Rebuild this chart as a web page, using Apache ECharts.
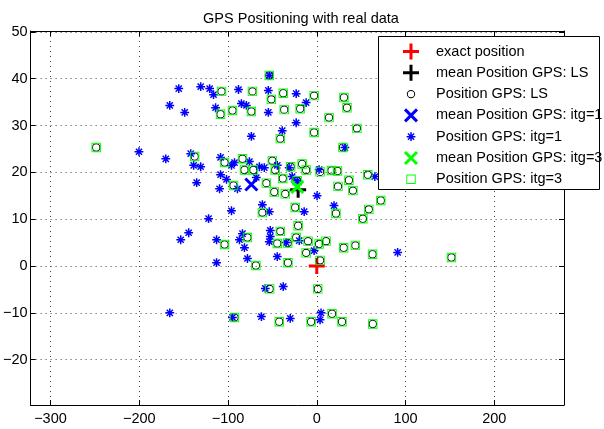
<!DOCTYPE html>
<html><head><meta charset="utf-8">
<script src="https://cdn.jsdelivr.net/npm/echarts@6/dist/echarts.min.js"></script>
<style>html,body{margin:0;padding:0;background:#fff}#c{width:604px;height:429px}</style>
</head><body><div id="c"></div>
<script>
const chartTitle = 'GPS Positioning with real data';
const seriesNames = ['exact position', 'mean Position GPS: LS', 'Position GPS: LS',
  'mean Position GPS: itg=1', 'Position GPS: itg=1', 'mean Position GPS: itg=3', 'Position GPS: itg=3'];
const xTicks = [-300, -200, -100, 0, 100, 200];
const yTicks = [-20, -10, 0, 10, 20, 30, 40, 50];

const exactPosition = [[0, 0]];
const meanLS = [[-21, 16.3]];
const meanItg1 = [[-73.7, 17.4]];
const meanItg3 = [[-22, 16.9]];

const posLS = [
  [-53.5,40.7],[-107.3,37.3],[-72.5,37.3],[-37.8,36.9],[-3.0,36.4],[30.6,36.0],[-51.2,35.6],
  [-108.4,32.4],[-95.0,33.2],[-73.7,33.0],[-36.7,33.4],[-18.7,33.6],[34.0,33.8],[13.8,31.7],
  [45.2,29.4],[-3.0,28.5],[-41.1,27.2],[29.5,25.3],[-248.5,25.3],[-137.6,23.4],[-103.9,22.1],
  [-83.7,22.9],[-81.5,20.5],[-71.4,20.5],[-50.1,22.5],[-46.8,20.5],[-29.4,21.2],[-16.5,21.8],
  [-12.0,20.5],[3.7,20.1],[16.6,20.4],[23.3,20.3],[57.5,19.5],[36.2,18.3],[-93.8,17.2],
  [-56.8,17.7],[-38.3,18.7],[-22.1,18.2],[-47.9,15.8],[-35.5,15.4],[23.9,17.0],[40.7,16.1],
  [72.1,14.0],[58.6,12.1],[51.9,10.1],[-61.3,11.4],[-24.3,12.5],[21.6,11.2],[-21.0,8.6],
  [-41.1,7.4],[-78.1,6.1],[-103.9,4.6],[-44.5,4.8],[-32.7,4.9],[-23.2,6.1],[-9.8,5.3],
  [2.6,4.7],[10.4,5.3],[-12.0,2.8],[30.3,3.9],[43.5,4.4],[62.8,2.5],[151.7,1.8],[-68.6,0.1],
  [-32.5,0.7],[3.7,1.2],[-53.1,-4.9],[1.1,-4.9],[-92.7,-11.0],[-42.3,-11.9],[-6.4,-11.9],
  [17.2,-10.2],[28.4,-11.9],[63.1,-12.4]
];
const posItg1 = [
  [-155.5,37.9],[-130.8,38.3],[-120.7,37.9],[-116.3,36.6],[-165.6,34.3],[-148.8,32.8],[-114.0,33.8],
  [-88.2,37.7],[-84.9,34.7],[-79.3,34.3],[-54.6,37.5],[-54.6,32.8],[-23.2,36.8],[-12.0,34.9],
  [-23.2,30.6],[-38.9,28.9],[-73.7,27.7],[-53.5,40.7],[31.7,25.3],[-200.3,24.4],[-170.1,22.9],
  [-142.0,24.0],[-138.7,21.5],[-130.8,21.2],[-108.4,23.2],[-108.4,19.5],[-101.7,18.5],[-135.3,17.8],
  [-109.5,16.5],[-96.1,21.5],[-92.7,22.1],[-89.4,16.5],[-75.9,22.3],[-68.1,18.9],[-64.7,21.2],
  [-59.1,21.0],[-44.5,21.5],[-31.1,21.0],[2.6,20.6],[65.4,19.1],[-27.7,19.1],[-22.1,18.2],
  [0.3,15.0],[-61.3,13.1],[-53.5,11.6],[-96.1,11.8],[-14.2,11.6],[19.4,12.9],[-121.9,10.1],
  [-144.3,7.1],[-153.3,5.6],[-112.9,5.6],[-87.1,5.6],[-83.7,6.9],[-81.5,3.9],[-52.4,7.6],
  [-52.4,6.3],[-53.5,5.2],[-34.4,5.0],[-19.8,5.4],[-3.0,3.3],[-44.5,2.0],[-78.1,1.6],
  [-112.9,0.7],[91.1,2.9],[-58.0,-4.8],[-37.8,-4.4],[-165.6,-10.0],[-95.0,-11.0],[-62.4,-10.8],
  [-29.9,-11.2],[4.8,-10.0],[3.7,-11.5]
];
const posItg3 = [
  [-53.5,40.7],[-107.3,37.3],[-72.5,37.3],[-37.8,36.9],[-3.0,36.4],[30.6,36.0],[-51.2,35.6],
  [-108.4,32.4],[-95.0,33.2],[-73.7,33.0],[-36.7,33.4],[-18.7,33.6],[34.0,33.8],[13.8,31.7],
  [45.2,29.4],[-3.0,28.5],[-41.1,27.2],[29.5,25.3],[-248.5,25.3],[-137.6,23.4],[-103.9,22.1],
  [-83.7,22.9],[-81.5,20.5],[-71.4,20.5],[-50.1,22.5],[-46.8,20.5],[-29.4,21.2],[-16.5,21.8],
  [-12.0,20.5],[3.7,20.1],[16.6,20.4],[23.3,20.3],[57.5,19.5],[36.2,18.3],[-93.8,17.2],
  [-56.8,17.7],[-38.3,18.7],[-22.1,18.2],[-47.9,15.8],[-35.5,15.4],[23.9,17.0],[40.7,16.1],
  [72.1,14.0],[58.6,12.1],[51.9,10.1],[-61.3,11.4],[-24.3,12.5],[21.6,11.2],[-21.0,8.6],
  [-41.1,7.4],[-78.1,6.1],[-103.9,4.6],[-44.5,4.8],[-32.7,4.9],[-23.2,6.1],[-9.8,5.3],
  [2.6,4.7],[10.4,5.3],[-12.0,2.8],[30.3,3.9],[43.5,4.4],[62.8,2.5],[151.7,1.8],[-68.6,0.1],
  [-32.5,0.7],[3.7,1.2],[-53.1,-4.9],[1.1,-4.9],[-92.7,-11.0],[-42.3,-11.9],[-6.4,-11.9],
  [17.2,-10.2],[28.4,-11.9],[63.1,-12.4]
];

const SYM = {
  plus: 'path://M-8,-8M8,8M-8,-1.5H8V1.5H-8ZM-1.5,-8H1.5V8H-1.5Z',
  cross: 'path://M-8,-8M8,8M-4.94,-7.06L7.06,4.94L4.94,7.06L-7.06,-4.94ZM-7.06,4.94L4.94,-7.06L7.06,-4.94L-4.94,7.06Z',
  ring: 'path://M-8,-8M8,8M-4.2,0A4.2,4.2,0,1,0,4.2,0A4.2,4.2,0,1,0,-4.2,0ZM-3.2,0A3.2,3.2,0,1,1,3.2,0A3.2,3.2,0,1,1,-3.2,0Z',
  box: 'path://M-8,-8M8,8M-4.7,-4.7H4.7V4.7H-4.7ZM-3.8,-3.8V3.8H3.8V-3.8Z',
  star: 'path://M-8,-8M8,8M-4.4,-0.75H4.4V0.75H-4.4ZM-0.75,-4.4H0.75V4.4H-0.75ZM-2.6,-3.6L3.6,2.6L2.6,3.6L-3.6,-2.6ZM-3.6,2.6L2.6,-3.6L3.6,-2.6L-2.6,3.6Z'
};

const FONT = 'Liberation Sans';
const FS = 14.5;
const fmt = v => String(v).replace('-', '\u2212');

function sc(name, data, symbol, color, z) {
  return { type: 'scatter', name, data, symbol, symbolSize: 16, z,
    itemStyle: { color, opacity: 1 }, emphasis: { disabled: true }, silent: true,
    xAxisIndex: 0, yAxisIndex: 0, animation: false };
}

const xBase = { type: 'value', min: -322.4, max: 278.5, splitNumber: 6,
  axisLine: { show: true, onZero: false, lineStyle: { color: '#000', width: 1 } },
  axisTick: { show: true, inside: true, length: 5, lineStyle: { color: '#000' } } };
const yBase = { type: 'value', min: -29.7, max: 50.2, splitNumber: 8,
  axisLine: { show: true, onZero: false, lineStyle: { color: '#000', width: 1 } },
  axisTick: { show: true, inside: true, length: 5, lineStyle: { color: '#000' } } };
const grid = { type: [1, 4], color: '#444', width: 1 };

const chart = echarts.init(document.getElementById('c'), null, { renderer: 'canvas' });
chart.setOption({
  animation: false,
  backgroundColor: '#fff',
  title: { text: chartTitle, left: 296, top: 6, textAlign: 'center',
    textStyle: { fontFamily: FONT, fontSize: FS, fontWeight: 'normal', color: '#000' } },
  grid: { left: 28, right: 40, top: 31, bottom: 24, containLabel: false },
  xAxis: [
    Object.assign({}, xBase, { position: 'bottom',
      axisLabel: { show: true, margin: 6, color: '#000', fontFamily: FONT, fontSize: FS,
        showMinLabel: false, showMaxLabel: false,
        formatter: v => xTicks.includes(v) ? fmt(v) : '' },
      splitLine: { show: true, lineStyle: grid } }),
    Object.assign({}, xBase, { position: 'top', axisLabel: { show: false }, splitLine: { show: false } })
  ],
  yAxis: [
    Object.assign({}, yBase, { position: 'left',
      axisLabel: { show: true, margin: 3, color: '#000', fontFamily: FONT, fontSize: FS,
        showMinLabel: false, showMaxLabel: false,
        formatter: v => yTicks.includes(v) ? fmt(v) : '' },
      splitLine: { show: true, lineStyle: grid } }),
    Object.assign({}, yBase, { position: 'right', axisLabel: { show: false }, splitLine: { show: false } })
  ],
  legend: { orient: 'vertical', left: 403, top: 43.5, padding: 0, itemGap: 5.3, align: 'left',
    itemWidth: 40, itemHeight: 16, selectedMode: false, z: 20,
    textStyle: { fontFamily: FONT, fontSize: FS, color: '#000' }, data: seriesNames },
  graphic: [{ type: 'rect', z: 10, silent: true,
    shape: { x: 378.5, y: 36.5, width: 221, height: 153 },
    style: { fill: '#fff', stroke: '#000', lineWidth: 1 } }],
  series: [
    sc(seriesNames[0], exactPosition, SYM.plus, '#ff0000', 2),
    sc(seriesNames[1], meanLS, SYM.plus, '#000000', 3),
    sc(seriesNames[2], posLS, SYM.ring, '#000000', 4),
    sc(seriesNames[3], meanItg1, SYM.cross, '#0000ff', 5),
    sc(seriesNames[4], posItg1, SYM.star, '#0000ff', 6),
    sc(seriesNames[5], meanItg3, SYM.cross, '#00ff00', 7),
    sc(seriesNames[6], posItg3, SYM.box, '#00ff00', 8)
  ]
});
</script></body></html>
